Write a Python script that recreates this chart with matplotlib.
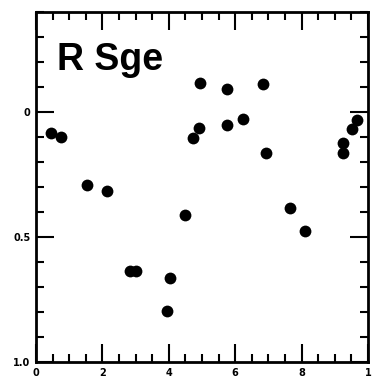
import matplotlib
matplotlib.use("Agg")
import matplotlib.pyplot as plt
from matplotlib.ticker import MultipleLocator

# phase / relative magnitude
phase = [0.045, 0.075, 0.154, 0.214, 0.283, 0.301, 0.404, 0.395, 0.449,
         0.494, 0.491, 0.473, 0.575, 0.575, 0.623, 0.684, 0.693, 0.765,
         0.810, 0.925, 0.925, 0.952, 0.967]
dmag = [0.084, 0.100, 0.292, 0.316, 0.636, 0.636, 0.664, 0.796, 0.412,
        -0.116, 0.064, 0.104, -0.092, 0.052, 0.028, -0.112, 0.164, 0.384,
        0.476, 0.124, 0.164, 0.068, 0.032]

xticks = [0, 0.2, 0.4, 0.6, 0.8, 1.0]
xlabels = ["0", "2", "4", "6", "8", "1"]
yticks = [0, 0.5, 1.0]
ylabels = ["0", "0.5", "1.0"]

fig = plt.figure(figsize=(3.73, 3.83), dpi=100)
ax = fig.add_axes([0.0965, 0.0548, 0.89, 0.914])

ax.plot(phase, dmag, 'o', color='black', markersize=8.5, markeredgewidth=0)

ax.set_xlim(0, 1)
ax.set_ylim(1.0, -0.4)

ax.set_xticks(xticks)
ax.set_xticklabels(xlabels)
ax.set_yticks(yticks)
ax.set_yticklabels(ylabels)
ax.xaxis.set_minor_locator(MultipleLocator(0.05))
ax.yaxis.set_minor_locator(MultipleLocator(0.1))

ax.tick_params(which='both', direction='in', top=True, right=True, width=1.5,
               labelsize=7, pad=4)
ax.tick_params(which='major', length=13)
ax.tick_params(which='minor', length=6)
for lab in ax.get_xticklabels() + ax.get_yticklabels():
    lab.set_fontweight('bold')

for s in ax.spines.values():
    s.set_linewidth(2)

ax.text(0.064, 0.834, "R Sge", transform=ax.transAxes, fontsize=27,
        fontweight='bold', family='Liberation Sans', va='baseline')

fig.savefig("out.png", dpi=100)
